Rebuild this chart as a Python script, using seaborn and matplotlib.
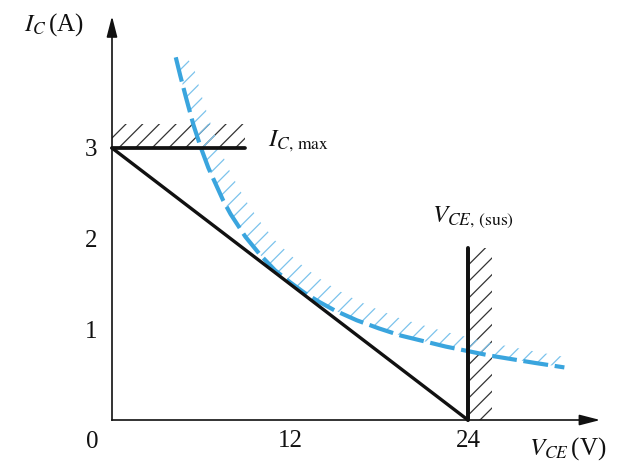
import numpy as np
import pandas as pd
import seaborn as sns
import matplotlib.pyplot as plt

sns.set_theme(style='white')
plt.rcParams['font.family'] = ['Liberation Serif', 'DejaVu Serif']
plt.rcParams['mathtext.fontset'] = 'stix'
plt.rcParams['hatch.linewidth'] = 0.6

# load line (V_CE, I_C)
load_v = [0, 24]
load_i = [3, 0]
# limits
ic_max = 3
ic_max_v = [0, 9]
vce_sus = 24
vce_sus_i = [0, 1.9]
# max power dissipation curve
pd_v = [4.3, 4.6, 5.0, 5.5, 6.0, 6.5, 7.0, 7.5, 8.0, 9.0, 10.0, 11.0, 12.0,
        13.0, 14.0, 15.0, 16.5, 18.0, 19.5, 21.0, 22.5, 24.0, 25.5, 27.0,
        28.5, 30.5]
pd_i = [4.0, 3.8, 3.55, 3.25, 3.0, 2.78, 2.6, 2.42, 2.27, 2.02, 1.82, 1.65,
        1.52, 1.4, 1.3, 1.21, 1.1, 1.01, 0.93, 0.87, 0.81, 0.76, 0.71, 0.67,
        0.63, 0.58]
x_ticks = [12, 24]
y_ticks = [1, 2, 3]

blue = '#3aa5de'
blue_hatch = '#7cc3ec'
ink = '#111111'

fig = plt.figure(figsize=(4.16, 3.08), dpi=150)
ax = fig.add_axes([0, 0, 1, 1])
ax.set_xlim(-7.55, 34.52)
ax.set_ylim(-0.463, 4.632)

# hatched forbidden regions
ax.fill_between(ic_max_v, ic_max, ic_max + 0.27, facecolor='none',
                edgecolor='#333333', hatch='///', linewidth=0)
ax.fill_betweenx(vce_sus_i, vce_sus, vce_sus + 1.6, facecolor='none',
                 edgecolor='#333333', hatch='///', linewidth=0)
band_top = np.minimum(np.array(pd_i) * 1.2, pd_i[0])
ax.fill_between(pd_v, pd_i, band_top, facecolor='none',
                edgecolor=blue_hatch, hatch='///', linewidth=0)

df_pd = pd.DataFrame({'V': pd_v, 'I': pd_i})
sns.lineplot(data=df_pd, x='V', y='I', ax=ax, color=blue, lw=2.0,
             linestyle=(0, (6, 1.6)), estimator=None, sort=False)

df_load = pd.DataFrame({'V': load_v, 'I': load_i})
sns.lineplot(data=df_load, x='V', y='I', ax=ax, color=ink, lw=1.6,
             estimator=None, sort=False)
sns.lineplot(x=ic_max_v, y=[ic_max, ic_max], ax=ax, color=ink, lw=1.8,
             estimator=None, sort=False)
sns.lineplot(x=[vce_sus, vce_sus], y=vce_sus_i, ax=ax, color=ink, lw=1.9,
             estimator=None, sort=False)

# axes with arrows
for s in ['top', 'right']:
    ax.spines[s].set_visible(False)
ax.spines['left'].set_position(('data', 0))
ax.spines['bottom'].set_position(('data', 0))
ax.spines['left'].set_bounds(0, 4.3)
ax.spines['bottom'].set_bounds(0, 32.5)
for s in ['left', 'bottom']:
    ax.spines[s].set_color(ink)
    ax.spines[s].set_linewidth(0.8)
ax.annotate('', xy=(33.2, 0), xytext=(31.5, 0),
            arrowprops=dict(arrowstyle='-|>,head_length=0.7,head_width=0.18',
                            color=ink, lw=0.8))
ax.annotate('', xy=(0, 4.5), xytext=(0, 4.2),
            arrowprops=dict(arrowstyle='-|>,head_length=0.7,head_width=0.18',
                            color=ink, lw=0.8))

ax.set_xticks(x_ticks)
ax.set_yticks(y_ticks)
ax.set_xticklabels([str(t) for t in x_ticks])
ax.set_yticklabels([str(t) for t in y_ticks])
ax.tick_params(axis='both', direction='in', length=8, width=0.8,
               color=ink, labelsize=12, labelcolor=ink)
ax.tick_params(axis='x', pad=5)
ax.tick_params(axis='y', pad=7)
ax.set_xlabel('')
ax.set_ylabel('')

ax.text(-1.35, -0.24, '0', fontsize=12, ha='center', va='center', color=ink)
ax.text(-3.9, 4.36, r'$I_C\,$(A)', fontsize=12, ha='center', va='center', color=ink)
ax.text(30.7, -0.31, r'$V_{CE}\,$(V)', fontsize=12, ha='center', va='center', color=ink)
ax.text(10.5, 3.07, r'$I_{C,\,\mathrm{max}}$', fontsize=12, ha='left', va='center', color=ink)
ax.text(24.35, 2.24, r'$V_{CE,\,\mathrm{(sus)}}$', fontsize=12, ha='center', va='center', color=ink)

plt.savefig('out.png', dpi=150)
plt.close('all')
